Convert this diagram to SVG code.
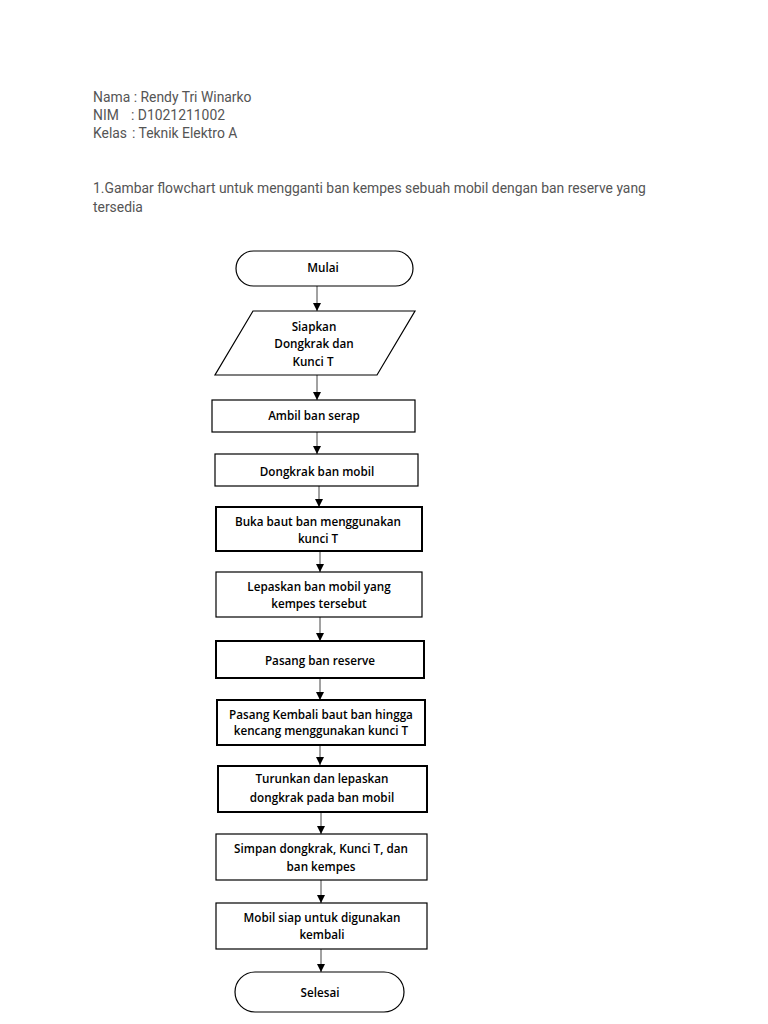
<svg xmlns="http://www.w3.org/2000/svg" width="768" height="1024" viewBox="0 0 768 1024">
<defs>
<marker id="arr" viewBox="0 0 10 10" refX="10" refY="5" markerWidth="8" markerHeight="8" markerUnits="userSpaceOnUse" orient="auto">
<path d="M0,0 L10,5 L0,10 z" fill="#000"/>
</marker>
<style>
.hdr{font-family:Roboto,"Liberation Sans",sans-serif;font-size:13.9px;fill:#555}
.box{fill:#fff;stroke:#000;stroke-width:1.2}
.thick{stroke-width:2}
.lbl{font-family:"Open Sans","Noto Sans",sans-serif;font-weight:600;font-size:11.7px;fill:#000;text-anchor:middle}
.con{stroke:#444;stroke-width:1;fill:none;marker-end:url(#arr)}
</style>
</defs>
<rect width="768" height="1024" fill="#fff"/>
<g id="header">
<text class="hdr" x="93" y="102">Nama : Rendy Tri Winarko</text>
<text class="hdr" x="93" y="120">NIM</text>
<text class="hdr" x="131" y="120">: D1021211002</text>
<text class="hdr" x="93" y="138">Kelas</text>
<text class="hdr" x="132" y="138">: Teknik Elektro A</text>
<text class="hdr" x="93" y="193">1.Gambar flowchart untuk mengganti ban kempes sebuah mobil dengan ban reserve yang</text>
<text class="hdr" x="93" y="212">tersedia</text>
</g>
<g id="connectors">
<line class="con" x1="317" y1="286" x2="317" y2="311"/>
<line class="con" x1="317" y1="375" x2="317" y2="400"/>
<line class="con" x1="317" y1="432" x2="317" y2="454"/>
<line class="con" x1="319" y1="486" x2="319" y2="507"/>
<line class="con" x1="320" y1="551" x2="320" y2="572"/>
<line class="con" x1="320" y1="617" x2="320" y2="641"/>
<line class="con" x1="320" y1="678" x2="320" y2="700"/>
<line class="con" x1="320" y1="745" x2="320" y2="765"/>
<line class="con" x1="321" y1="812" x2="321" y2="834"/>
<line class="con" x1="321" y1="880" x2="321" y2="903"/>
<line class="con" x1="321" y1="949" x2="321" y2="972"/>
</g>
<g id="mulai">
<rect class="box" x="236" y="251" width="177" height="35" rx="17.5"/>
<text class="lbl" x="323" y="272">Mulai</text>
</g>
<g id="siapkan">
<polygon class="box" points="253,311 415,311 377,375 215,375"/>
<text class="lbl" x="314" y="331">Siapkan</text>
<text class="lbl" x="314" y="348">Dongkrak dan</text>
<text class="lbl" x="313" y="366">Kunci T</text>
</g>
<g id="ambil">
<rect class="box" x="212" y="400" width="203" height="32"/>
<text class="lbl" x="314" y="420">Ambil ban serap</text>
</g>
<g id="dongkrak">
<rect class="box" x="215" y="454" width="203" height="32"/>
<text class="lbl" x="317" y="476">Dongkrak ban mobil</text>
</g>
<g id="buka">
<rect class="box thick" x="216" y="507" width="206" height="44"/>
<text class="lbl" x="318" y="526">Buka baut ban menggunakan</text>
<text class="lbl" x="318" y="543">kunci T</text>
</g>
<g id="lepaskan">
<rect class="box" x="216" y="572" width="206" height="45"/>
<text class="lbl" x="319" y="591">Lepaskan ban mobil yang</text>
<text class="lbl" x="319" y="608">kempes tersebut</text>
</g>
<g id="pasang">
<rect class="box thick" x="216" y="641" width="208" height="37"/>
<text class="lbl" x="320" y="665">Pasang ban reserve</text>
</g>
<g id="pasangkembali">
<rect class="box thick" x="217" y="700" width="208" height="45"/>
<text class="lbl" x="321" y="719">Pasang Kembali baut ban hingga</text>
<text class="lbl" x="321" y="735">kencang menggunakan kunci T</text>
</g>
<g id="turunkan">
<rect class="box thick" x="218" y="766" width="209" height="46"/>
<text class="lbl" x="322" y="783">Turunkan dan lepaskan</text>
<text class="lbl" x="322" y="802">dongkrak pada ban mobil</text>
</g>
<g id="simpan">
<rect class="box" x="216" y="834" width="211" height="46"/>
<text class="lbl" x="321" y="853">Simpan dongkrak, Kunci T, dan</text>
<text class="lbl" x="321" y="871">ban kempes</text>
</g>
<g id="mobilsiap">
<rect class="box" x="216" y="903" width="211" height="46"/>
<text class="lbl" x="322" y="922">Mobil siap untuk digunakan</text>
<text class="lbl" x="322" y="939">kembali</text>
</g>
<g id="selesai">
<rect class="box" x="235" y="972" width="169" height="40" rx="20"/>
<text class="lbl" x="320" y="997">Selesai</text>
</g>
</svg>
